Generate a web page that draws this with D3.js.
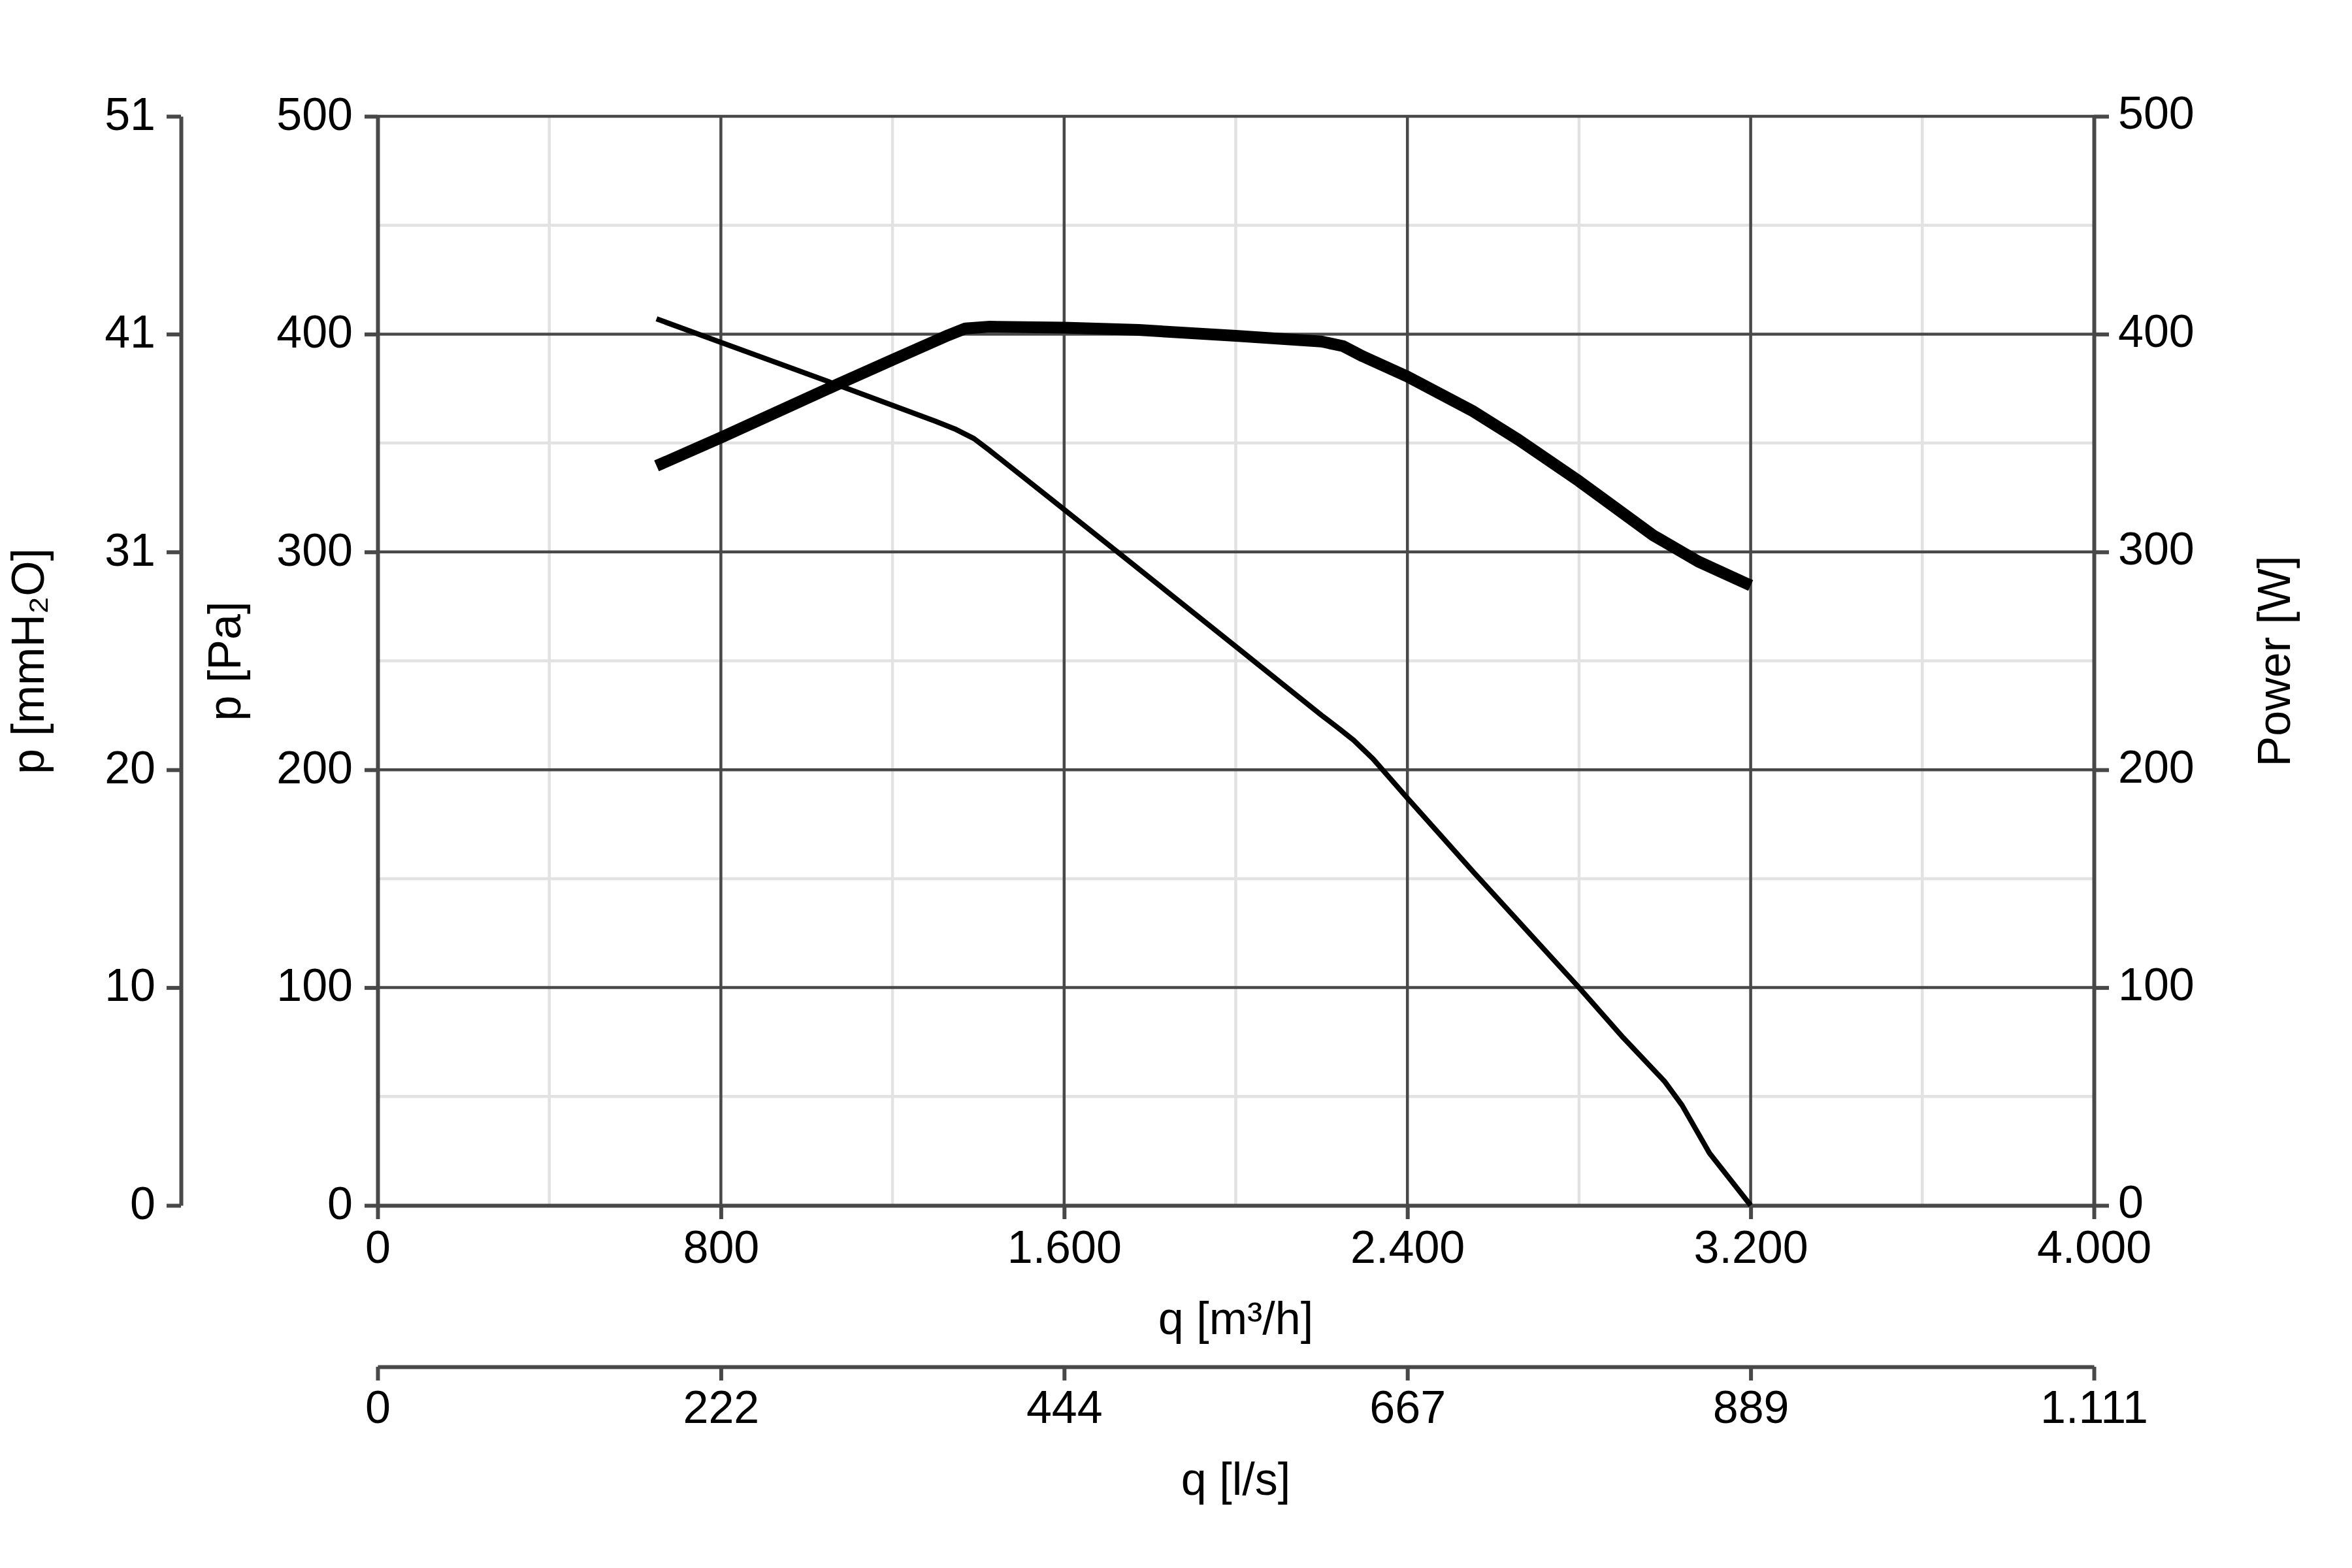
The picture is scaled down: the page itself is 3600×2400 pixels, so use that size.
<!DOCTYPE html>
<html>
<head>
<meta charset="utf-8">
<script src="https://cdn.jsdelivr.net/npm/d3@7"></script>
<style>
  body { margin: 0; background: #fff; }
  text { font-family: "Liberation Sans", Arial, sans-serif; fill: #000; }
</style>
</head>
<body>
<div id="chart"></div>
<script>
// axis ticks
const flowTicks = [0, 800, 1600, 2400, 3200, 4000];
const flowMinor = [400, 1200, 2000, 2800, 3600];
const paTicks = [0, 100, 200, 300, 400, 500];
const paMinor = [50, 150, 250, 350, 450];
const mmH2OLabels = ["0", "10", "20", "31", "41", "51"];
const lsLabels = ["0", "222", "444", "667", "889", "1.111"];

// pressure curve, q [m³/h] vs p [Pa]
const pressureFlow = [650, 1067, 1300, 1345, 1390, 1427, 1600, 1734, 2013, 2200, 2240, 2275, 2320, 2400, 2554, 2800, 2903, 2999, 3040, 3104, 3200];
const pressureValues = [407, 377, 360, 356.5, 352, 346.5, 319.5, 298.5, 254.5, 225, 219, 213.5, 205, 187, 153, 100, 77, 57, 46, 24, 0];

// power curve, q [m³/h] vs Power [W]
const powerFlow = [650, 800, 1067, 1200, 1330, 1370, 1427, 1600, 1774, 2000, 2200, 2250, 2296, 2400, 2554, 2659, 2800, 2973, 3078, 3200];
const powerValues = [339.5, 352.5, 376.5, 388.2, 399.5, 402.6, 403.4, 403, 401.9, 399.2, 396.6, 394.5, 389.8, 380.5, 364.5, 351.5, 332.5, 307.6, 295.6, 284.6];

const W = 3600, H = 2400;
const plot = { left: 578, right: 3205, top: 178, bottom: 1845 };
const fontSize = 70;
const dark = "#484848";

const locale = d3.formatLocale({ decimal: ",", thousands: ".", grouping: [3], currency: ["", ""] });
const fmt = locale.format(",d");

const svg = d3.select("#chart").append("svg")
  .attr("width", W).attr("height", H)
  .style("background", "#fff");

const x = d3.scaleLinear().domain([0, 4000]).range([plot.left, plot.right]);
const y = d3.scaleLinear().domain([0, 500]).range([plot.bottom, plot.top]);

// minor grid
const grid = svg.append("g");
grid.selectAll(".vminor").data(flowMinor).join("line")
  .attr("x1", d => x(d)).attr("x2", d => x(d))
  .attr("y1", plot.top).attr("y2", plot.bottom)
  .attr("stroke", "#e2e2e2").attr("stroke-width", 4.5);
grid.selectAll(".hminor").data(paMinor).join("line")
  .attr("y1", d => y(d)).attr("y2", d => y(d))
  .attr("x1", plot.left).attr("x2", plot.right)
  .attr("stroke", "#e2e2e2").attr("stroke-width", 4.5);

// major grid
grid.selectAll(".vmajor").data(flowTicks.slice(1, -1)).join("line")
  .attr("x1", d => x(d)).attr("x2", d => x(d))
  .attr("y1", plot.top).attr("y2", plot.bottom)
  .attr("stroke", dark).attr("stroke-width", 4.5);
grid.selectAll(".hmajor").data(paTicks.slice(1)).join("line")
  .attr("y1", d => y(d)).attr("y2", d => y(d))
  .attr("x1", plot.left).attr("x2", plot.right)
  .attr("stroke", dark).attr("stroke-width", 4.5);

// helper to style an axis group
function styleAxis(g) {
  g.selectAll(".domain").attr("stroke", dark).attr("stroke-width", 6);
  g.selectAll(".tick line").attr("stroke", dark).attr("stroke-width", 6);
  g.selectAll(".tick text")
    .attr("font-size", fontSize)
    .attr("font-family", "'Liberation Sans', Arial, sans-serif")
    .attr("fill", "#000");
}

// main flow axis (m³/h)
svg.append("g")
  .attr("transform", `translate(0,${plot.bottom})`)
  .call(d3.axisBottom(x).tickValues(flowTicks).tickFormat(fmt)
    .tickSize(21).tickSizeOuter(0).tickPadding(17))
  .call(styleAxis);

// pressure axis (Pa)
svg.append("g")
  .attr("transform", `translate(${plot.left},0)`)
  .call(d3.axisLeft(y).tickValues(paTicks).tickFormat(d3.format("d"))
    .tickSize(20).tickSizeOuter(0).tickPadding(18))
  .call(styleAxis)
  .selectAll(".tick text").attr("dy", "0.29em");

// power axis (W)
svg.append("g")
  .attr("transform", `translate(${plot.right},0)`)
  .call(d3.axisRight(y).tickValues(paTicks).tickFormat(d3.format("d"))
    .tickSize(23).tickSizeOuter(0).tickPadding(14))
  .call(styleAxis)
  .selectAll(".tick text").attr("dy", "0.27em");

// mmH2O axis on the far left
svg.append("g")
  .attr("transform", "translate(277,0)")
  .call(d3.axisLeft(y).tickValues(paTicks).tickFormat((d, i) => mmH2OLabels[i])
    .tickSize(22).tickSizeOuter(0).tickPadding(17))
  .call(styleAxis)
  .selectAll(".tick text").attr("dy", "0.29em");

// l/s axis below
svg.append("g")
  .attr("transform", "translate(0,2092)")
  .call(d3.axisBottom(x).tickValues(flowTicks).tickFormat((d, i) => lsLabels[i])
    .tickSize(21).tickSizeOuter(0).tickPadding(15))
  .call(styleAxis);

// curves
const line = d3.line()
  .x(d => x(d[0]))
  .y(d => y(d[1]))
  .curve(d3.curveLinear);

svg.append("path")
  .datum(powerFlow.map((q, i) => [q, powerValues[i]]))
  .attr("fill", "none")
  .attr("stroke", "#000")
  .attr("stroke-width", 18)
  .attr("stroke-linejoin", "round")
  .attr("d", line);

svg.append("path")
  .datum(pressureFlow.map((q, i) => [q, pressureValues[i]]))
  .attr("fill", "none")
  .attr("stroke", "#000")
  .attr("stroke-width", 8)
  .attr("stroke-linejoin", "round")
  .attr("d", line);

// axis titles
const midY = 1012;
svg.append("text")
  .attr("transform", `translate(67,${midY}) rotate(-90)`)
  .attr("text-anchor", "middle")
  .attr("font-size", fontSize)
  .text("p [mmH₂O]");

svg.append("text")
  .attr("transform", `translate(368,${midY}) rotate(-90)`)
  .attr("text-anchor", "middle")
  .attr("font-size", fontSize)
  .text("p [Pa]");

svg.append("text")
  .attr("transform", `translate(3505,${midY}) rotate(-90)`)
  .attr("text-anchor", "middle")
  .attr("font-size", fontSize)
  .text("Power [W]");

svg.append("text")
  .attr("x", (plot.left + plot.right) / 2)
  .attr("y", 2042)
  .attr("text-anchor", "middle")
  .attr("font-size", fontSize)
  .text("q [m³/h]");

svg.append("text")
  .attr("x", (plot.left + plot.right) / 2)
  .attr("y", 2288)
  .attr("text-anchor", "middle")
  .attr("font-size", fontSize)
  .text("q [l/s]");
</script>
</body>
</html>
